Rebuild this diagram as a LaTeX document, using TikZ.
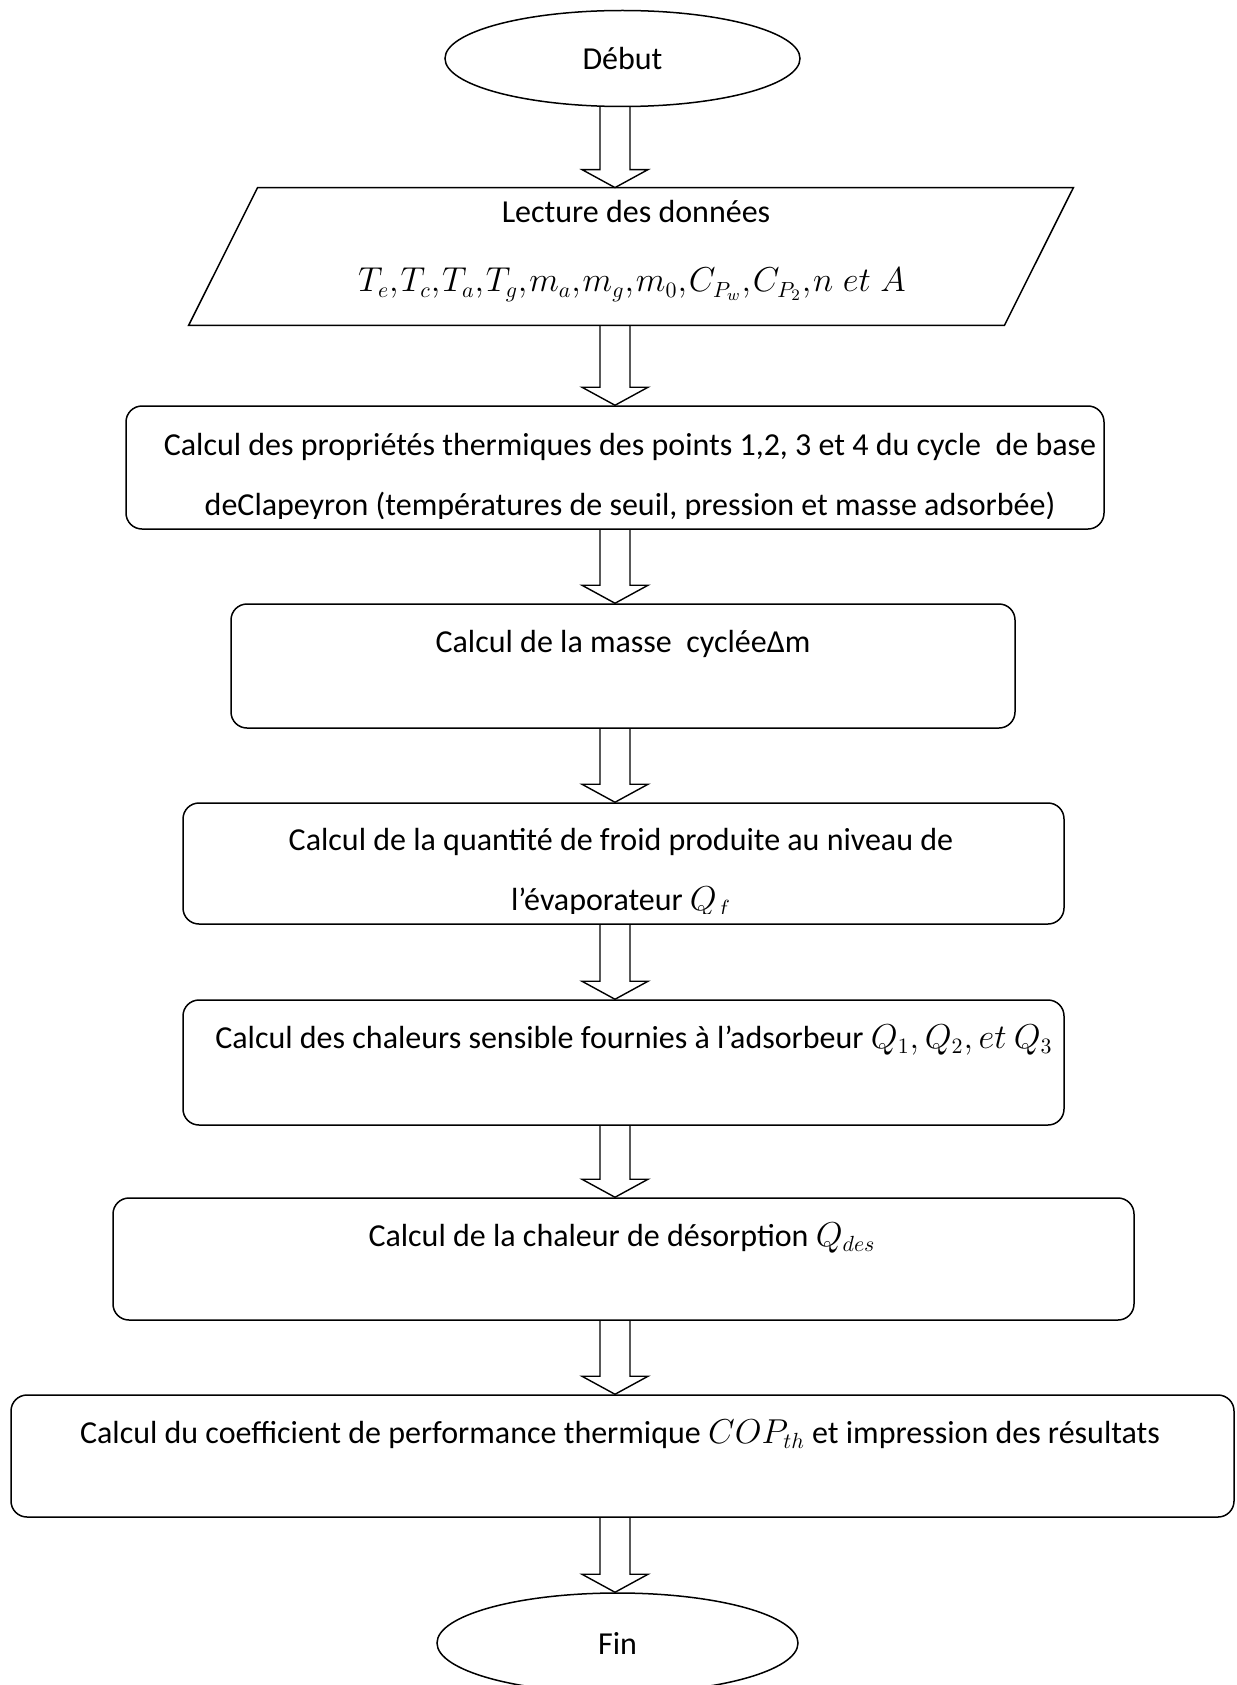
\documentclass[tikz,border=0pt]{standalone}
\usepackage{fontspec}
\setmainfont{Carlito}
\usetikzlibrary{shapes.geometric,calc}
\tikzset{
  outline/.style={draw=black,line width=0.75pt},
  procbox/.style={outline,rounded corners=8pt,inner sep=0pt,minimum width=#1},
  termnode/.style={outline,ellipse,inner sep=0pt,font=\fontsize{16pt}{19pt}\selectfont},
  txt/.style={anchor=base,inner sep=0pt,font=\fontsize{16pt}{19pt}\selectfont},
  arrowline/.style={draw=black,line width=0.7pt,line join=miter}
}
\newcommand\flowarrow[2]{%
  \draw[arrowline] ($(#1.south -| ax)+(-15,0)$) -- ($(#2.north -| ax)+(-15,-18)$)
    -- ($(#2.north -| ax)+(-33,-18)$) -- (#2.north -| ax) -- ($(#2.north -| ax)+(33,-18)$)
    -- ($(#2.north -| ax)+(15,-18)$) -- ($(#1.south -| ax)+(15,0)$);}
\begin{document}
\begin{tikzpicture}[x=0.5pt,y=-0.5pt]
\fill[white] (0,0) rectangle (1236,1685);
\useasboundingbox (0,0) rectangle (1236,1685);
\coordinate (ax) at (615,0);

% start
\node[termnode,minimum width=177.5pt,minimum height=48pt] (deb) at (622.5,58.5) {Début};

% data parallelogram
\node[inner sep=0pt,minimum width=442pt,minimum height=68.5pt] (data) at (631,256.5) {};
\draw[outline] ($(data.north west)+(69,0)$) -- (data.north east) -- ($(data.south east)+(-69,0)$) -- (data.south west) -- cycle;
\node[txt] (datat1) at (636,222) {Lecture des données};
\node[txt] (datat2) at (632,292) {\thinmuskip=1mu $T_e, T_c, T_a, T_g, m_a, m_g, m_0, C_{P_w}, C_{P_2}, n\;et\;A$};

% box 3
\node[procbox=489pt,minimum height=61.5pt] (b3) at (615,467.5) {};
\begin{scope}
\clip (b3.north west) rectangle ($(b3.south east)+(0,-11)$);
\node[txt] (b3t1) at (630,455) {Calcul des propriétés thermiques des points 1,2, 3 et 4 du cycle\ \ de base};
\node[txt] (b3t2) at (630,515) {deClapeyron (températures de seuil, pression et masse adsorbée)};
\end{scope}

% box 4
\node[procbox=392pt,minimum height=62pt] (b4) at (623,666) {};
\node[txt] (b4t) at (623,652) {Calcul de la masse\ \ cycléeΔm};

% box 5
\node[procbox=440.5pt,minimum height=60.5pt] (b5) at (623.5,863.5) {};
\begin{scope}
\clip (b5.north west) rectangle ($(b5.south east)+(0,-11)$);
\node[txt] (b5t1) at (621,850) {Calcul de la quantité de froid produite au niveau de};
\node[txt] (b5t2) at (621,910) {l’évaporateur $Q_f$};
\end{scope}

% box 6
\node[procbox=440.5pt,minimum height=62.5pt] (b6) at (623.5,1062.5) {};
\node[txt] (b6t) at (634,1048) {Calcul des chaleurs sensible fournies à l’adsorbeur $Q_1, Q_2, et\ Q_3$};

% box 7
\node[procbox=510.5pt,minimum height=61pt] (b7) at (623.5,1259) {};
\node[txt] (b7t) at (622,1246) {Calcul de la chaleur de désorption $Q_{des}$};

% box 8
\node[procbox=611.5pt,minimum height=61pt] (b8) at (622.5,1456) {};
\node[txt] (b8t) at (620,1443) {Calcul du coefficient de performance thermique $COP_{th}$ et impression des résultats};

% end
\node[termnode,minimum width=180.5pt,minimum height=50pt] (fin) at (617.5,1643) {Fin};

% arrows
\flowarrow{deb}{data}
\flowarrow{data}{b3}
\flowarrow{b3}{b4}
\flowarrow{b4}{b5}
\flowarrow{b5}{b6}
\flowarrow{b6}{b7}
\flowarrow{b7}{b8}
\flowarrow{b8}{fin}
\end{tikzpicture}
\end{document}
